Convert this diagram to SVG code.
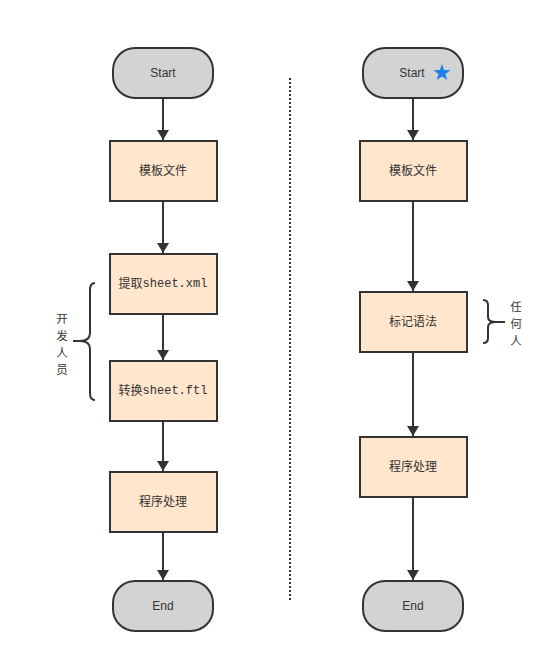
<svg xmlns="http://www.w3.org/2000/svg" width="557" height="663" viewBox="0 0 557 663">
<style>
.term{fill:#d3d3d3;stroke:#333;stroke-width:2}
.box{fill:#ffe6cc;stroke:#333;stroke-width:2}
.t{font-family:"Liberation Sans","Noto Sans CJK SC",sans-serif;font-size:12px;fill:#333;text-anchor:middle;dominant-baseline:central}
.m{font-family:"Liberation Mono","Noto Sans CJK SC",monospace}
.c{fill:none;stroke:#333;stroke-width:2}
.lbl{font-family:"Noto Sans CJK SC",sans-serif;font-size:11.5px;fill:#333;text-anchor:middle;dominant-baseline:central}
</style>
<defs>
<marker id="ah" markerWidth="10" markerHeight="12" refX="10" refY="6" orient="auto" markerUnits="userSpaceOnUse">
<path d="M0,0 L10,6 L0,12 Z" fill="#333"/>
</marker>
</defs>
<rect width="557" height="663" fill="#fff"/>
<g id="connectors">
<line class="c" x1="163" y1="98" x2="163" y2="140" marker-end="url(#ah)"/>
<line class="c" x1="163" y1="201" x2="163" y2="253" marker-end="url(#ah)"/>
<line class="c" x1="163" y1="314" x2="163" y2="360" marker-end="url(#ah)"/>
<line class="c" x1="163" y1="421" x2="163" y2="471" marker-end="url(#ah)"/>
<line class="c" x1="163" y1="532" x2="163" y2="580" marker-end="url(#ah)"/>
<line class="c" x1="413" y1="98" x2="413" y2="140" marker-end="url(#ah)"/>
<line class="c" x1="413" y1="201" x2="413" y2="291" marker-end="url(#ah)"/>
<line class="c" x1="413" y1="352" x2="413" y2="436" marker-end="url(#ah)"/>
<line class="c" x1="413" y1="497" x2="413" y2="580" marker-end="url(#ah)"/>
</g>
<line id="divider" x1="290" y1="78" x2="290" y2="600" stroke="#333" stroke-width="2" stroke-dasharray="2 2"/>
<g id="l-start"><rect class="term" x="113" y="48" width="100" height="50" rx="22"/><text class="t" x="163" y="73">Start</text></g>
<g id="l-tpl"><rect class="box" x="110" y="141" width="107" height="60"/><text class="t" x="163" y="171">模板文件</text></g>
<g id="l-extract"><rect class="box" x="110" y="254" width="107" height="60"/><text class="t" x="163" y="284">提取<tspan class="m">sheet.xml</tspan></text></g>
<g id="l-convert"><rect class="box" x="110" y="361" width="107" height="60"/><text class="t" x="163" y="391">转换<tspan class="m">sheet.ftl</tspan></text></g>
<g id="l-proc"><rect class="box" x="110" y="472" width="107" height="60"/><text class="t" x="163" y="502">程序处理</text></g>
<g id="l-end"><rect class="term" x="113" y="581" width="100" height="50" rx="22"/><text class="t" x="163" y="606">End</text></g>
<g id="r-start"><rect class="term" x="363" y="48" width="100" height="50" rx="22"/><text class="t" x="412" y="73">Start</text>
<path d="M442,64 L444.1,70.1 L450.5,70.2 L445.4,74 L447.3,80.1 L442,76.5 L436.7,80.1 L438.6,74 L433.5,70.2 L439.9,70.1 Z" fill="#1e7fe6"/></g>
<g id="r-tpl"><rect class="box" x="360" y="141" width="107" height="60"/><text class="t" x="413" y="171">模板文件</text></g>
<g id="r-mark"><rect class="box" x="360" y="292" width="107" height="60"/><text class="t" x="413" y="322">标记语法</text></g>
<g id="r-proc"><rect class="box" x="360" y="437" width="107" height="60"/><text class="t" x="413" y="467">程序处理</text></g>
<g id="r-end"><rect class="term" x="363" y="581" width="100" height="50" rx="22"/><text class="t" x="413" y="606">End</text></g>
<g id="dev-brace">
<path class="c" d="M95,283 Q90,283 90,290 L90,333 Q90,341 80,341 L73,341 M80,341 Q90,341 90,349 L90,393 Q90,400 95,400"/>
<text class="lbl" x="62" y="318">开</text><text class="lbl" x="62" y="335">发</text><text class="lbl" x="62" y="352">人</text><text class="lbl" x="62" y="369">员</text>
</g>
<g id="any-brace">
<path class="c" d="M483,300 Q488,300 488,305 L488,317 Q488,322 496,322 L505,322 M496,322 Q488,322 488,327 L488,338 Q488,343 483,343"/>
<text class="lbl" x="516" y="306">任</text><text class="lbl" x="516" y="323">何</text><text class="lbl" x="516" y="340">人</text>
</g>
</svg>
